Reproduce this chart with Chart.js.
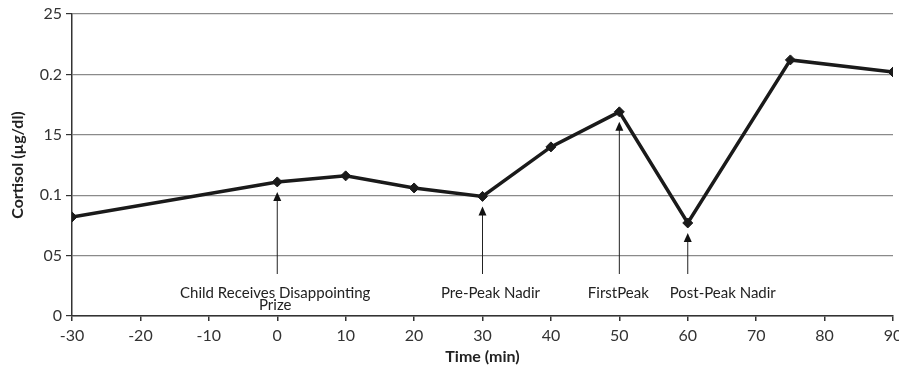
<!DOCTYPE html>
<html>
<head>
<meta charset="utf-8">
<script src="https://cdn.jsdelivr.net/npm/chart.js@4.4.1/dist/chart.umd.min.js"></script>
<style>
html,body{margin:0;padding:0;background:#fff;}
#wrap{width:899px;height:372px;position:relative;}
</style>
</head>
<body>
<div id="wrap"><canvas id="c" width="899" height="372"></canvas></div>
<script>
// ---- data ----
const times = [-30, 0, 10, 20, 30, 40, 50, 60, 75, 90];
const cortisol = [0.082, 0.111, 0.116, 0.106, 0.099, 0.140, 0.169, 0.077, 0.212, 0.202];
const yTickLabels = ["0", "05", "0.1", "15", "0.2", "25"];
const xTicks = [-30, -20, -10, 0, 10, 20, 30, 40, 50, 60, 70, 80, 90];
const eventTimes = [0, 30, 50, 60];
const eventLabels = [["Child Receives Disappointing", "Prize"], ["Pre-Peak Nadir"], ["FirstPeak"], ["Post-Peak Nadir"]];

// ---- styles ----
const FONT = "Lato, 'Open Sans', sans-serif";
const labelDx = [-2, 8, -1, 35];

const arrowPlugin = {
  id: 'arrows',
  afterDatasetsDraw(chart) {
    const ctx = chart.ctx, xs = chart.scales.x, ys = chart.scales.y;
    const bottom = chart.chartArea.bottom;
    ctx.save();
    eventTimes.forEach((t, i) => {
      const idx = times.indexOf(t);
      const px = xs.getPixelForValue(t);
      const tip = ys.getPixelForValue(cortisol[idx]) + 10;
      const base = bottom - 42;
      ctx.strokeStyle = '#222';
      ctx.lineWidth = 1;
      ctx.beginPath();
      ctx.moveTo(px, base);
      ctx.lineTo(px, tip + 6);
      ctx.stroke();
      ctx.fillStyle = '#111';
      ctx.beginPath();
      ctx.moveTo(px, tip);
      ctx.lineTo(px - 4, tip + 9);
      ctx.lineTo(px + 4, tip + 9);
      ctx.closePath();
      ctx.fill();
      ctx.font = "15px " + FONT;
      ctx.textAlign = 'center';
      ctx.textBaseline = 'middle';
      ctx.fillStyle = '#222';
      eventLabels[i].forEach((line, j) => {
        ctx.fillText(line, px + labelDx[i], bottom - 23 + j * 12);
      });
    });
    ctx.restore();
  }
};

new Chart(document.getElementById('c'), {
  type: 'line',
  data: {
    datasets: [{
      data: times.map((t, i) => ({x: t, y: cortisol[i]})),
      borderColor: '#1a1a1a',
      backgroundColor: '#1a1a1a',
      borderWidth: 3.5,
      pointStyle: 'rectRot',
      pointRadius: 5,
      pointBorderWidth: 1,
      tension: 0
    }]
  },
  options: {
    responsive: false,
    animation: false,
    devicePixelRatio: 1,
    layout: {padding: {top: 14, right: 0, left: 4, bottom: 2}},
    plugins: {legend: {display: false}, tooltip: {enabled: false}},
    scales: {
      x: {
        type: 'linear', min: -30, max: 90,
        afterBuildTicks(s) { s.ticks = xTicks.map(v => ({value: v})); },
        afterFit(s) { s.height = 372 - 316 - 2; s.paddingRight = 6; s.paddingLeft = 0; },
        grid: {drawOnChartArea: false, drawTicks: true, tickLength: 5, tickColor: '#333', lineWidth: 1.5},
        border: {color: '#333', width: 1.5},
        ticks: {color: '#333', font: {family: FONT, size: 16}, padding: 5, maxRotation: 0, callback: v => String(v)},
        title: {display: true, text: 'Time (min)', color: '#222', font: {family: FONT, size: 16, weight: 'bold'}, padding: {top: 6}}
      },
      y: {
        min: 0, max: 0.25,
        afterBuildTicks(s) { s.ticks = yTickLabels.map((l, i) => ({value: i * 0.05})); },
        afterFit(s) { s.width = 72 - 4; },
        grid: {color: '#8a8a8a', lineWidth: 1.2, tickLength: 6, tickColor: '#333'},
        border: {color: '#333', width: 1.5},
        ticks: {color: '#333', font: {family: FONT, size: 16}, padding: 4, callback: (v, i) => yTickLabels[i]},
        title: {display: true, text: 'Cortisol (µg/dl)', color: '#222', font: {family: FONT, size: 16, weight: 'bold'}, padding: {bottom: 4}}
      }
    }
  },
  plugins: [arrowPlugin]
});
</script>
</body>
</html>
